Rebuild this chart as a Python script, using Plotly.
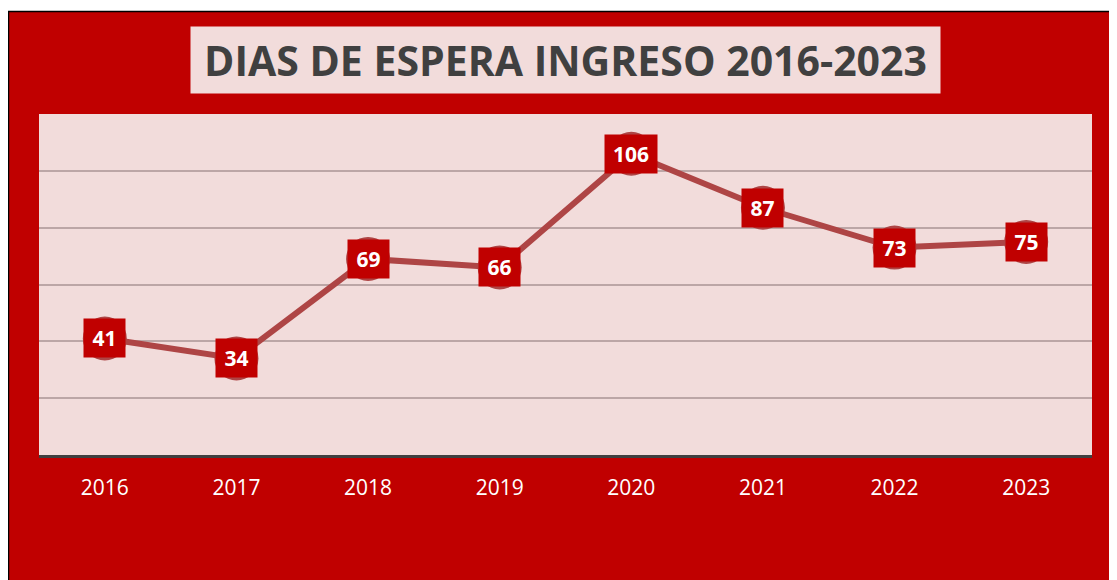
import plotly.graph_objects as go

years = ["2016", "2017", "2018", "2019", "2020", "2021", "2022", "2023"]
dias = [41, 34, 69, 66, 106, 87, 73, 75]
title_text = "DIAS DE ESPERA INGRESO 2016-2023"

RED = "#C00000"
PINK = "#F2DCDB"
LINE = "#AE4545"

# page has an 8px body margin; figure occupies screen 8..1117 x 8..580
OFF = 8
W, H = 1117 - OFF, 580 - OFF
# plot area on screen: x 39..1092, y 114..455
L, R, T, B = 39 - OFF, 1117 - 1092, 114 - OFF, 580 - 455
pw, ph = W - L - R, H - T - B

def px_x(sx):
    return (sx - OFF - L) / pw

def px_y(sy):
    return (H - B - (sy - OFF)) / ph

fig = go.Figure()
fig.add_trace(go.Scatter(
    x=years, y=dias, mode="lines+markers",
    line=dict(color=LINE, width=6),
    marker=dict(size=44, color=LINE, line=dict(width=0)),
    hoverinfo="skip", showlegend=False,
))

# data labels: category positions referenced by index on the category axis
for i, v in enumerate(dias):
    fig.add_annotation(
        x=i, y=v, xref="x", yref="y", text=f"<b>{v}</b>", showarrow=False,
        xanchor="center", yanchor="middle",
        font=dict(family="Open Sans", size=21, color="white"),
        bgcolor=RED, width=41 if v < 100 else 52, height=38, borderpad=0,
    )

fig.add_annotation(
    x=0.5, y=px_y(60), xref="paper", yref="paper", text=f"<b>{title_text}</b>",
    showarrow=False, xanchor="center", yanchor="middle",
    font=dict(family="Open Sans", size=41, color="#404040"),
    bgcolor=PINK, width=749, height=66, borderpad=0,
)

# white strip above and black border like the reference crop
fig.add_shape(type="rect", xref="paper", yref="paper",
              x0=px_x(0), x1=px_x(1125), y0=px_y(11), y1=px_y(0),
              fillcolor="white", line=dict(width=0), layer="below")
fig.add_shape(type="line", xref="paper", yref="paper",
              x0=px_x(7), x1=px_x(1125), y0=px_y(11.5), y1=px_y(11.5),
              line=dict(color="black", width=1.5), layer="below")
fig.add_shape(type="line", xref="paper", yref="paper",
              x0=px_x(8.5), x1=px_x(8.5), y0=px_y(11), y1=px_y(590),
              line=dict(color="black", width=1.5), layer="below")

fig.update_layout(
    width=W, height=H, margin=dict(l=L, r=R, t=T, b=B),
    paper_bgcolor=RED, plot_bgcolor=PINK,
    xaxis=dict(type="category", range=[-0.5, 7.5], showgrid=False,
               showline=True, linecolor="#404040", linewidth=3,
               tickfont=dict(family="Open Sans", size=21, color="white"),
               ticks="", ticklabelstandoff=12, fixedrange=True),
    yaxis=dict(range=[0, 120], tickvals=[20, 40, 60, 80, 100],
               showticklabels=False, showgrid=True, gridcolor="#BCA6A6",
               gridwidth=2, zeroline=False, showline=False, fixedrange=True),
)

fig.write_html("out.html", config={"displayModeBar": False})
